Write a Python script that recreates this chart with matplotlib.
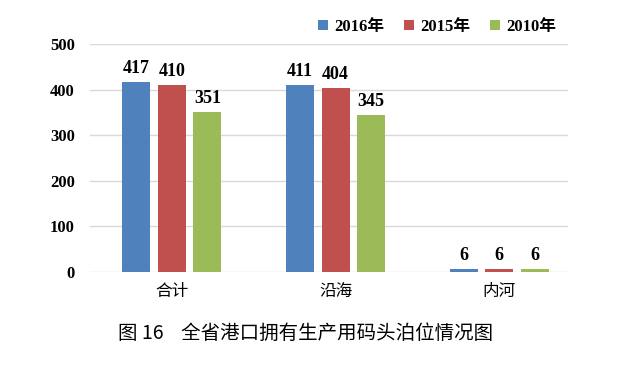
import matplotlib
matplotlib.use("Agg")
import matplotlib.pyplot as plt
import numpy as np

categories = ["合计", "沿海", "内河"]
series_names = ["2016年", "2015年", "2010年"]
v2016 = [417, 411, 6]
v2015 = [410, 404, 6]
v2010 = [351, 345, 6]
colors = ["#4F81BD", "#C0504D", "#9BBB59"]
yticks = [0, 100, 200, 300, 400, 500]

serif_bold = ['Liberation Serif', 'Noto Sans CJK SC']
cjk = ['Noto Sans CJK SC', 'DejaVu Sans']

fig = plt.figure(figsize=(6.38, 3.66), dpi=100)
ax = fig.add_axes([90/638, 1-272/366, (568-90)/638, (272-44)/366])

x = np.arange(len(categories))
w = 0.171
step = 0.217
for i, (vals, name, c) in enumerate(zip([v2016, v2015, v2010], series_names, colors)):
    bars = ax.bar(x + (i-1)*step, vals, w, color=c, label=name, zorder=3)
    for b, v in zip(bars, vals):
        ax.text(b.get_x()+b.get_width()/2, v + 11, str(v), ha='center', va='bottom',
                fontsize=13, fontweight='bold', family=serif_bold)

ax.set_ylim(0, 500)
ax.set_xlim(-0.50, 2.42)
ax.set_yticks(yticks)
ax.set_yticklabels([str(t) for t in yticks], fontsize=12, fontweight='bold', family=serif_bold)
ax.set_xticks(x)
ax.set_xticklabels(categories, fontsize=12, family=cjk)
ax.tick_params(axis='both', length=0)
ax.tick_params(axis='y', pad=11)
ax.tick_params(axis='x', pad=8)
ax.grid(axis='y', color='#D9D9D9', linewidth=1, zorder=0)
for s in ax.spines.values():
    s.set_visible(False)

leg = fig.legend(loc='center', bbox_to_anchor=(437/638, 1-27/366), ncol=3, frameon=False,
                 handlelength=0.6, handleheight=0.6, handletextpad=0.35, columnspacing=1.2,
                 prop={'family': serif_bold, 'weight': 'bold', 'size': 12})

fig.text(118/638, 1-333/366, "图 16    全省港口拥有生产用码头泊位情况图", fontsize=14,
         family=cjk, ha='left', va='center')

fig.savefig("out.png", dpi=100)
